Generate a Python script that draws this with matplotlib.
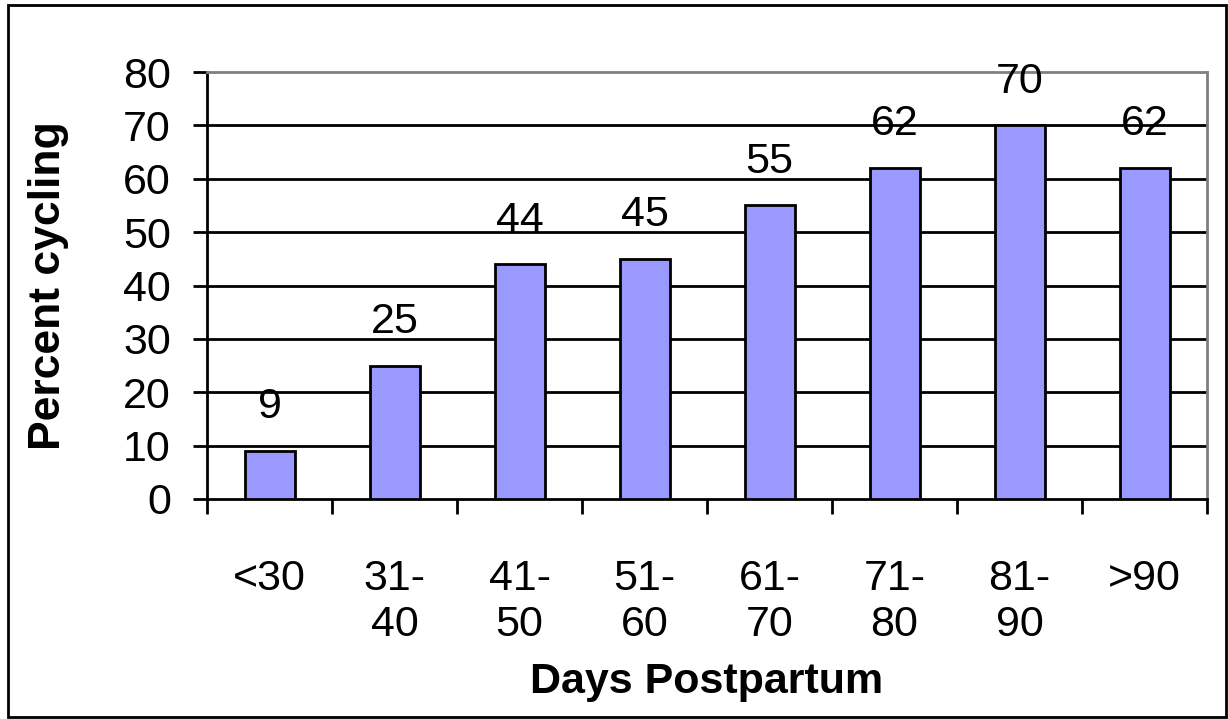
import matplotlib.pyplot as plt
from matplotlib.patches import Rectangle

categories = ['<30', '31-\n40', '41-\n50', '51-\n60', '61-\n70', '71-\n80', '81-\n90', '>90']
percent_cycling = [9, 25, 44, 45, 55, 62, 70, 62]
y_ticks = [0, 10, 20, 30, 40, 50, 60, 70, 80]

plt.rcParams['font.family'] = ['Liberation Sans', 'DejaVu Sans']

fig = plt.figure(figsize=(12.28, 7.19), dpi=100)
ax = fig.add_axes([207 / 1228, 1 - 499 / 719, 1000 / 1228, 427 / 719])

lw = 2.0
x = list(range(len(categories)))
bars = ax.bar(x, percent_cycling, width=0.4, color='#9999FF',
              edgecolor='black', linewidth=lw, zorder=3)
ax.bar_label(bars, labels=[str(v) for v in percent_cycling],
             padding=17, fontsize=31, zorder=4)

ax.set_xlim(-0.5, len(categories) - 0.5)
ax.set_ylim(0, 80)
ax.set_yticks(y_ticks)
ax.tick_params(axis='y', labelsize=31, length=10, width=lw, pad=16,
               direction='out')
for yv in y_ticks[1:-1]:
    ax.axhline(yv, color='black', linewidth=lw, zorder=1)

# category boundaries as tick marks, labels at centres
bounds = [i - 0.5 for i in range(len(categories) + 1)]
ax.set_xticks(bounds)
ax.set_xticklabels([])
ax.tick_params(axis='x', which='major', length=11, width=lw, direction='out')
ax.set_xticks(x, minor=True)
ax.set_xticklabels(categories, minor=True, fontsize=31, linespacing=1.2)
ax.tick_params(axis='x', which='minor', length=0, pad=43)

for side in ['left', 'bottom']:
    ax.spines[side].set_color('black')
    ax.spines[side].set_linewidth(lw)
for side in ['top', 'right']:
    ax.spines[side].set_color('#808080')
    ax.spines[side].set_linewidth(lw)

ax.set_ylabel('Percent cycling', fontsize=32, fontweight='bold', labelpad=39)
ax.set_xlabel('Days Postpartum', fontsize=31, fontweight='bold', labelpad=12)

fig.patches.append(Rectangle((8 / 1228, 2 / 719), 1218 / 1228, 712 / 719,
                             transform=fig.transFigure, fill=False,
                             edgecolor='black', linewidth=2))

fig.savefig('out.png', dpi=100)
